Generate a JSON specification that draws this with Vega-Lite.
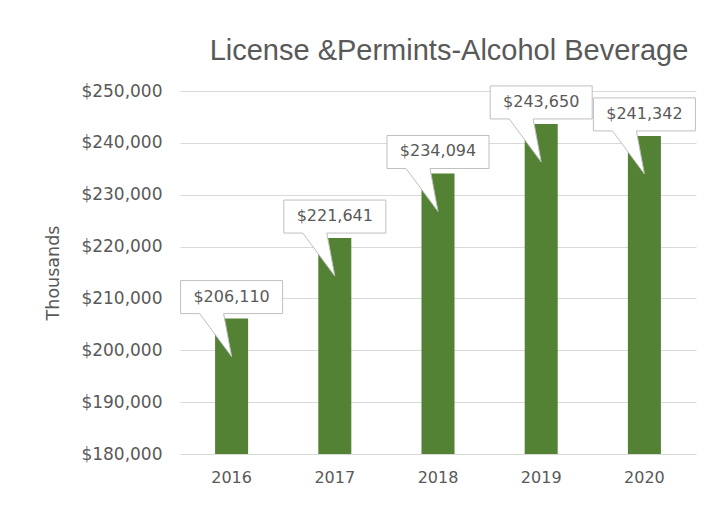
{
  "$schema": "https://vega.github.io/schema/vega-lite/v6.json",
  "width": 516,
  "height": 363,
  "autosize": {"type": "none"},
  "padding": {"left": 180, "top": 91, "right": 14, "bottom": 52},
  "background": "white",
  "config": {"view": {"stroke": null}},
  "title": {
    "text": "License &Permints-Alcohol Beverage",
    "frame": "group",
    "anchor": "middle",
    "dx": 11,
    "dy": 38,
    "offset": 31,
    "baseline": "alphabetic",
    "font": "Liberation Sans",
    "fontSize": 29,
    "fontWeight": "normal",
    "color": "#595959"
  },
  "data": {
    "values": [
      {"year": "2016", "value": 206110},
      {"year": "2017", "value": 221641},
      {"year": "2018", "value": 234094},
      {"year": "2019", "value": 243650},
      {"year": "2020", "value": 241342}
    ]
  },
  "encoding": {
    "x": {
      "field": "year",
      "type": "nominal",
      "scale": {"paddingInner": 0.68, "paddingOuter": 0.34},
      "axis": {
        "title": null,
        "labelAngle": 0,
        "labelFont": "DejaVu Sans",
        "labelFontSize": 16,
        "labelColor": "#595959",
        "labelPadding": 15,
        "ticks": false,
        "domain": false,
        "grid": false
      }
    },
    "y": {
      "field": "value",
      "type": "quantitative",
      "scale": {"domain": [180000, 250000], "nice": false, "zero": false},
      "axis": {
        "values": [180000, 190000, 200000, 210000, 220000, 230000, 240000, 250000],
        "format": "$,.0f",
        "title": "Thousands",
        "labelFont": "DejaVu Sans",
        "labelFontSize": 17,
        "labelColor": "#595959",
        "labelPadding": 18,
        "ticks": false,
        "domain": false,
        "gridColor": "#d9d9d9",
        "gridWidth": 1,
        "titleFont": "DejaVu Sans",
        "titleFontSize": 17.5,
        "titleFontWeight": "normal",
        "titleColor": "#595959",
        "titlePadding": 18
      }
    }
  },
  "layer": [
    {
      "mark": {"type": "bar", "color": "#548235"},
      "encoding": {"y2": {"datum": 180000}}
    },
    {
      "mark": {
        "type": "point",
        "shape": "M-1.02,-0.76L1.02,-0.76L1.02,-0.1L-0.16,-0.1L0,0.76L-0.64,-0.1L-1.02,-0.1Z",
        "size": 10000,
        "filled": true,
        "fill": "white",
        "stroke": "#bfbfbf",
        "strokeWidth": 1,
        "opacity": 1
      }
    },
    {
      "mark": {
        "type": "text",
        "dy": -22,
        "font": "DejaVu Sans",
        "fontSize": 16,
        "color": "#595959",
        "baseline": "middle",
        "align": "center"
      },
      "encoding": {"text": {"field": "value", "type": "quantitative", "format": "$,.0f"}}
    }
  ]
}
